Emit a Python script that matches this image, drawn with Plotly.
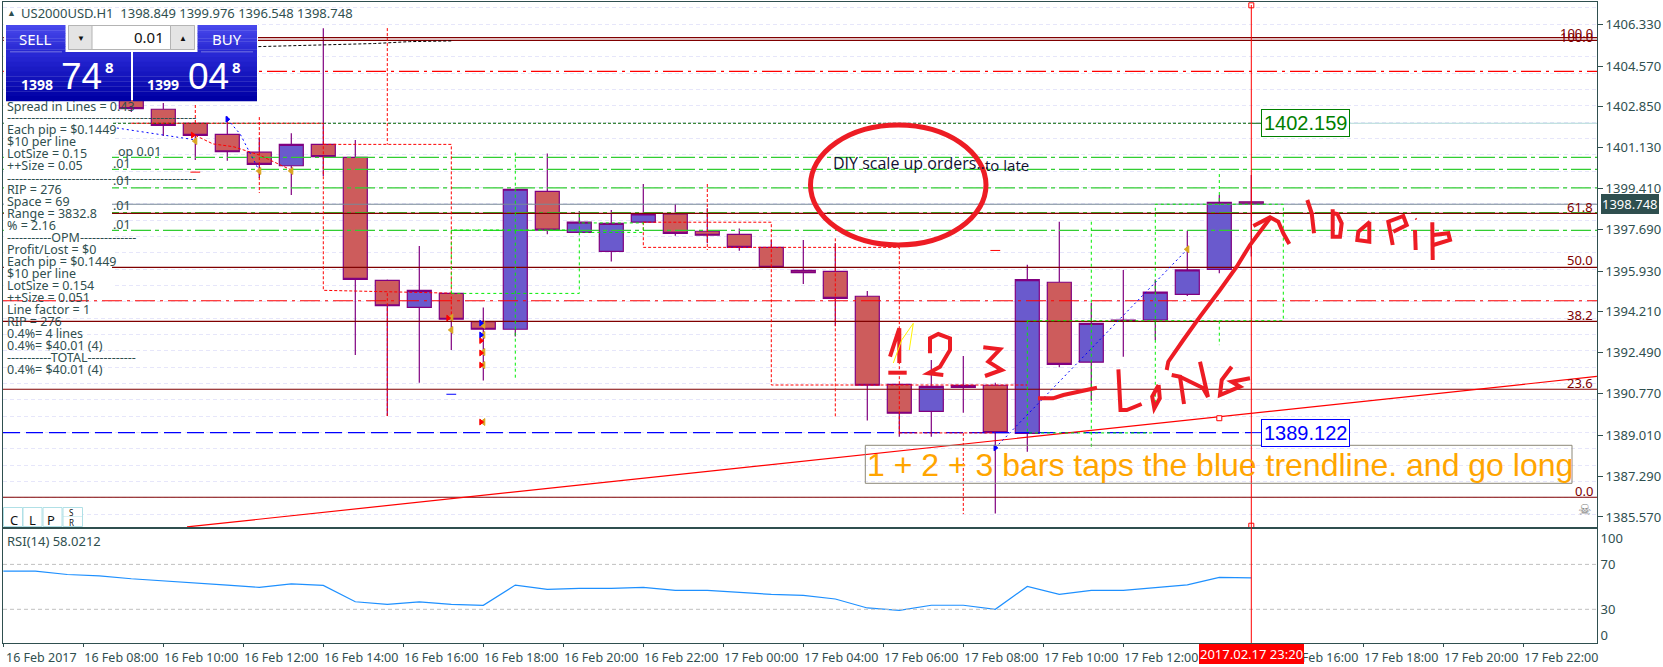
import plotly.graph_objects as go

W, H = 1663, 667

# ---------- chart data ----------
bars = list(range(0, 36))
opens = [1403.35,1402.75,1402.16,1401.69,1400.94,1400.37,1401.27,1400.72,1395.54,1394.40,1394.99,1393.80,1393.48,1399.29,1397.56,1396.76,1397.99,1398.34,1397.61,1397.48,1396.93,1395.96,1395.92,1394.87,1391.16,1390.02,1391.03,1391.12,1389.09,1395.46,1392.09,1393.85,1393.87,1394.95,1396.00,1398.849]
highs = [1403.56,1403.01,1402.17,1402.44,1401.54,1401.74,1406.16,1401.45,1395.58,1396.99,1395.00,1394.40,1399.38,1400.89,1398.46,1398.50,1399.60,1398.76,1398.58,1397.73,1397.24,1397.24,1397.10,1395.09,1391.17,1392.18,1392.35,1391.23,1396.20,1398.01,1394.59,1395.98,1395.58,1397.63,1399.14,1399.976]
lows = [1402.63,1401.62,1400.61,1400.58,1399.85,1399.14,1399.94,1392.39,1389.82,1391.22,1392.60,1391.32,1393.17,1397.48,1397.56,1396.33,1397.98,1397.42,1397.10,1396.79,1396.06,1395.39,1393.62,1389.63,1388.95,1388.95,1389.96,1385.71,1388.32,1391.88,1390.47,1392.32,1393.03,1394.88,1395.84,1396.548]
closes = [1402.78,1402.07,1401.65,1400.96,1400.43,1401.27,1400.75,1395.58,1394.47,1395.12,1393.90,1393.48,1399.38,1397.66,1397.99,1397.94,1398.34,1397.52,1397.44,1396.93,1396.09,1395.86,1394.78,1391.12,1389.94,1391.07,1391.12,1389.12,1395.57,1392.00,1393.73,1393.87,1395.04,1395.98,1398.83,1398.748]

rsi_bars = list(range(-4, 36))
rsi_values = [64.0,64.0,61.0,59.8,57.2,55.4,53.9,51.6,49.5,52.7,51.3,36.7,34.4,36.7,34.4,33.5,51.6,47.8,48.7,48.7,49.6,46.9,46.9,45.1,43.3,42.4,39.2,31.2,29.1,33.6,33.6,30.0,50.4,43.3,46.8,46.8,49.2,51.8,58.4,58.02]

price_ticks = [1406.33,1404.57,1402.85,1401.13,1399.41,1397.69,1395.93,1394.21,1392.49,1390.77,1389.01,1387.29,1385.57]
rsi_levels = [70, 30]
time_labels = ["16 Feb 2017","16 Feb 08:00","16 Feb 10:00","16 Feb 12:00","16 Feb 14:00","16 Feb 16:00","16 Feb 18:00","16 Feb 20:00","16 Feb 22:00","17 Feb 00:00","17 Feb 04:00","17 Feb 06:00","17 Feb 08:00","17 Feb 10:00","17 Feb 12:00","17 Feb 14:00","17 Feb 16:00","17 Feb 18:00","17 Feb 20:00","17 Feb 22:00"]

fib_levels = [1405.765,1405.656,1398.365,1396.09,1393.81,1390.95,1386.40]
fib_labels = [("100.0",1405.95),("100.0",1405.80),("61.8",1398.64),("50.0",1396.38),("38.2",1394.09),("23.6",1391.23),("0.0",1386.68)]
green_levels = [1400.725,1400.22,1399.44,1398.39,1397.65]
red_dashdot_levels = [1404.35,1394.68]
bid_level = 1398.748
tp_level = 1402.159
sl_level = 1389.122
trend_x = [1.74, 45.8]
trend_y = [1385.15, 1391.49]

red_orders = [
 [(2,1402.93),(2,1402.16)], [(0,1402.16),(6,1402.16),(6,1395.12),(10,1395.0)],
 [(4,1402.42),(4,1399.22)], [(6,1401.27),(10,1401.27),(10,1393.9)],
 [(8,1406.17),(8,1401.27)], [(8,1395.0),(8,1389.82)],
 [(2,1401.65),(2.55,1401.29),(3.2,1401.17),(4,1400.82),(5,1400.19)],
 [(16,1397.99),(20,1397.99),(20,1391.13),(28,1391.13)],
 [(16,1397.99),(16,1396.93),(24,1396.93),(24,1388.98)],
 [(24,1389.11),(27,1389.11)], [(26,1389.11),(26,1385.69)],
 [(18,1399.6),(18,1396.82)], [(22,1397.31),(22,1389.75)],
]
green_orders = [
 [(10,1394.99),(10,1397.66),(14,1397.66)], [(10,1394.99),(14,1394.99),(14,1398.46)],
 [(14,1397.56),(16,1397.56),(16,1397.96),(14,1397.96)], [(12,1400.92),(12,1391.38)],
 [(28,1393.84),(36,1393.84),(36,1398.748),(32,1398.748),(32,1390.16)],
 [(28,1393.84),(28,1389.11),(32,1389.11)], [(30,1398.01),(30,1388.52)],
 [(34,1400.02),(34,1398.71)], [(34,1393.84),(34,1392.81)],
]
blue_orders = [
 [(-0.45,1401.96),(2,1401.46)], [(3,1402.33),(3.4,1401.71),(4,1400.15)],
 [(27,1388.48),(33,1396.85)],
]
black_order = [(3.97,1405.39),(5.7,1405.44),(7.6,1405.52),(8.7,1405.60),(10.05,1405.63)]

tri_x = [2,4,5,11,11,11,11,11,10,10,33]
tri_y = [1401.41,1400.15,1400.15,1393.66,1393.24,1392.52,1391.97,1389.57,1393.97,1393.45,1396.85]
red_mark_x = [10.93,10.93,10.93,10.93,1.92,9.9]
red_mark_y = [1393.0,1392.48,1391.97,1389.57,1401.66,1393.95]
blue_mark_x = [10.93,10.93,3,27]
blue_mark_y = [1393.74,1393.24,1402.33,1388.48]
red_dash_x = [2,27]
red_dash_y = [1400.10,1396.8]
blue_dash_x = [10]
blue_dash_y = [1390.74]

info_lines = [
 ("Spread in Lines = 0.43",106),("-----------------------------------------------",118),
 ("Each pip = $0.1449",129.5),("$10 per line",141.7),("LotSize = 0.15",153.7),("++Size = 0.05",165.7),
 ("-----------------------------------------------",178),("RIP = 276",189.5),("Space = 69",201.7),
 ("Range = 3832.8",213.7),("% = 2.16",225.7),("-----------OPM--------------",237.7),
 ("Profit/Lost = $0",249.7),("Each pip = $0.1449",261.7),("$10 per line",273.7),("LotSize = 0.154",285.7),
 ("++Size = 0.051",297.7),("Line factor = 1",309.7),("RIP = 276",321.7),("0.4%= 4 lines",333.7),
 ("0.4%= $40.01 (4)",345.7),("-----------TOTAL------------",357.7),("0.4%= $40.01 (4)",369.7),
]
lot_lines = [("op 0.01",118,151),(".01",113,163),(".01",113,181),(".01",113,206),(".01",113,224)]

# hand-drawn marks on the screenshot, in window pixels
strokes = [
 [(1166.7,370),(1168.3,361.7),(1183.3,340),(1200,316.7),(1220,290),(1236.7,266.7),(1250,245),(1270,218.3)],
 [(1253.3,226),(1270,217.3),(1278.3,221.7),(1283.3,233.3),(1289.3,244)],
 [(1038,398.3),(1053,398.3),(1063.4,395),(1097,387.7)],
 [(1118.4,369.3),(1120.5,410),(1126.8,410),(1141.6,404)],
 [(1158.6,385),(1152.2,396.7),(1154.3,408.3),(1159.8,398.3),(1158.6,385)],
 [(1171.7,375),(1180,376.7),(1184,404)],
 [(1180,376.7),(1203,388),(1208,397),(1200,361.7)],
 [(1231.7,366.7),(1221.7,380),(1220,395),(1240,386.7),(1231.7,381.7),(1250,378.3)],
 [(890,356.7),(899.3,328.3),(899.3,353),(899.3,363)],
 [(888.3,372.7),(906.7,372.7)],
 [(930,353.3),(930,338.3),(938.3,334),(950,338.3),(950,350),(940,366.7),(928.3,373.3),(943.3,375)],
 [(983.3,347.3),(1000,349.3),(988.3,361.7),(1001.7,370),(985,376)],
 [(1307.3,200),(1311.7,213.3),(1314,233.3)],
 [(1332.7,209.3),(1332.7,236.7),(1340,236.7),(1341.7,223.3),(1337.3,214),(1333.3,213.3)],
 [(1370,221.7),(1358.3,231.7),(1357.3,240),(1369.3,241.7),(1369.3,221.7)],
 [(1392.7,245),(1388.3,221.7),(1403.3,216),(1406.7,225),(1393.3,231.7)],
 [(1415,230),(1415.7,250)],
 [(1432.3,222.3),(1432.7,260)],
 [(1433.3,245),(1450,240),(1448.3,233.3),(1433.3,235)],
]
yellow_strokes = [[(893.3,363),(901.7,340),(913.3,323.3),(909.3,350)]]

# ---------- layout constants ----------
SLATE = "#2f4f4f"
DARKRED = "#800000"
TXT = "Noto Sans"
L, R, T, B = 3, 1597, 2, 527
RT, RB = 529, 643
X0, X1 = (L-131.3)/32, (R-131.3)/32
Y_TOP, Y_BOT = 1407.27, 1385.146
def px(x): return x/W
def py(y): return 1-y/H
def seg(paths):
    xs, ys = [], []
    for p in paths:
        xs += [a for a,_ in p]+[None]
        ys += [b for _,b in p]+[None]
    return xs, ys

fig = go.Figure()
def level(v, color, dash="solid", width=1, x0=X0, x1=X1):
    fig.add_trace(go.Scatter(x=[x0,x1], y=[v,v], mode="lines", line=dict(color=color,dash=dash,width=width),
                             hoverinfo="skip", showlegend=False))

# below the candles
for v in green_levels:
    level(v, "#32cd32", "20px,4px,4px,4px", 1.2)
level(bid_level, "#778899", "solid", 1.2)
level(tp_level, "#b0d8d8", "solid", 1, 37.99, X1)

fig.add_trace(go.Candlestick(x=bars, open=opens, high=highs, low=lows, close=closes,
    increasing=dict(line=dict(color="#800080",width=1.2), fillcolor="#6a5acd"),
    decreasing=dict(line=dict(color="#800080",width=1.2), fillcolor="#cd5c5c"),
    whiskerwidth=0, showlegend=False, hoverinfo="skip"))

# above the candles
for v in fib_levels:
    level(v, DARKRED, "solid", 1.2)
for v in red_dashdot_levels:
    level(v, "#ff0000", "20px,5px,3px,5px", 1.2)
level(tp_level, "#006400", "3px,2px", 1, X0, 35)
level(tp_level, "#006400", "solid", 1, 35, 35.35)
level(sl_level, "#0000ff", "17px,6px", 1.2, X0, 35)
level(sl_level, "#0000ff", "solid", 1, 35, 35.35)
fig.add_trace(go.Scatter(x=trend_x, y=trend_y, mode="lines", line=dict(color="#ff0000",width=1.2),
                         hoverinfo="skip", showlegend=False))
for paths, col, d in [(red_orders,"#ff0000","3px,2px"),(green_orders,"#00ee00","3px,3px"),
                      (blue_orders,"#0000ff","2px,3px"),([black_order],"#000000","3px,2px")]:
    xs, ys = seg(paths)
    fig.add_trace(go.Scatter(x=xs, y=ys, mode="lines", line=dict(color=col,dash=d,width=1),
                             connectgaps=False, hoverinfo="skip", showlegend=False))
def marks(x, y, sym, col, size):
    fig.add_trace(go.Scatter(x=x, y=y, mode="markers", hoverinfo="skip", showlegend=False,
        marker=dict(symbol=sym, size=size, color=col, line=dict(color=col, width=1))))
marks(tri_x, tri_y, "triangle-left", "#daa520", 6)
marks(red_mark_x, red_mark_y, "triangle-right", "#ff0000", 5)
marks(blue_mark_x, blue_mark_y, "triangle-right", "#0000ff", 5)
marks(red_dash_x, red_dash_y, "line-ew", "#ff0000", 7)
marks(blue_dash_x, blue_dash_y, "line-ew", "#0000ff", 7)
fig.add_trace(go.Scatter(x=[35,35,34], y=[1407.13,1385.2,1389.73], mode="markers", hoverinfo="skip", showlegend=False,
    marker=dict(symbol="square", size=5, color="#ffffff", line=dict(color="#ff0000",width=1))))

# RSI
fig.add_trace(go.Scatter(x=rsi_bars, y=rsi_values, mode="lines", xaxis="x2", yaxis="y2",
    line=dict(color="#1e90ff",width=1.2), hoverinfo="skip", showlegend=False))
for v in rsi_levels:
    fig.add_trace(go.Scatter(x=[X0,X1], y=[v,v], mode="lines", xaxis="x2", yaxis="y2",
        line=dict(color="#c0c0c0",dash="4px,3px",width=1), hoverinfo="skip", showlegend=False))

shapes, ann = [], []
def rect(x0,y0,x1,y1,fill=None,line=None,lw=1):
    shapes.append(dict(type="rect",xref="paper",yref="paper",x0=px(x0),x1=px(x1),y0=py(y1),y1=py(y0),
        fillcolor=fill or "rgba(0,0,0,0)",line=dict(color=line or "rgba(0,0,0,0)",width=lw if line else 0),layer="above"))
def text(x,y,s,size=13,color=SLATE,anchor="left",font=TXT,bg=None,bold=False,border=None,pad=0):
    ann.append(dict(xref="paper",yref="paper",x=px(x),y=py(y),text=("<b>%s</b>"%s) if bold else s,showarrow=False,
        xanchor=anchor,yanchor="middle",font=dict(family=font,size=size,color=color),
        bgcolor=bg,bordercolor=border,borderpad=pad,borderwidth=1 if border else 0))

# crosshair
shapes.append(dict(type="line",xref="x",yref="paper",x0=35,x1=35,y0=py(RB),y1=py(5),line=dict(color="#ff0000",width=1),layer="above"))

# hand strokes
def poly(points,color,width):
    d = "M "+" L ".join("%.5f,%.5f"%(px(a),py(b)) for a,b in points)
    shapes.append(dict(type="path",xref="paper",yref="paper",path=d,line=dict(color=color,width=width),layer="above"))
for s in strokes:
    poly(s,"#ed1c24",4)
for s in yellow_strokes:
    poly(s,"#fff200",1)
shapes.append(dict(type="circle",xref="paper",yref="paper",x0=px(810.5),x1=px(986),y0=py(245),y1=py(125),
    line=dict(color="#ed1c24",width=5),layer="above"))
poly([(1415.5,218.5),(1416.5,219.5)],"#ed1c24",2)

# info panel backing
rect(3.8,100,112,292,fill="#ffffff")
rect(3.8,23,258,100,fill="#ffffff")
# sell / buy panel
def grad(x0,y0,x1,y1,top,bot,n=10):
    for k in range(n):
        f = k/(n-1)
        c = tuple(round(top[i]+(bot[i]-top[i])*f) for i in range(3))
        rect(x0,y0+(y1-y0)*k/n,x1,y0+(y1-y0)*(k+1)/n+0.3,fill="rgb(%d,%d,%d)"%c)
grad(6,25,65.5,52,(72,72,236),(40,40,210))
grad(197.5,25,257,52,(72,72,236),(40,40,210))
grad(6,52,131,101,(40,40,212),(0,0,165))
grad(133,52,257,101,(40,40,212),(0,0,165))
rect(10,51.5,62,52.3,fill="#8f8fe8")
rect(201,51.5,253,52.3,fill="#8f8fe8")
rect(68.5,25.5,194.5,49.5,fill="#ffffff",line="#b4b4b4",lw=1)
rect(68.5,25.5,92,49.5,fill="#e4e4e4",line="#b4b4b4",lw=1)
rect(170.5,25.5,194.5,49.5,fill="#e4e4e4",line="#b4b4b4",lw=1)
# C L P S/R buttons
for x0,x1 in [(3.5,22.5),(23,42),(43,62),(63,82.5)]:
    rect(x0,507.5,x1,526.5,fill="#ffffff",line="#b0e0e6",lw=1)
rect(63,516.5,82.5,517,fill="#b0e0e6")
# text box & value boxes
rect(865.3,445.3,1572,483.3,line="#8b8878",lw=1)

text(7,12.7,"▲",size=9,color=SLATE)
text(21,12.7,"US2000USD.H1&nbsp;&nbsp;1398.849 1399.976 1396.548 1398.748",size=13)
for s,y in info_lines:
    text(7,y,s,size=12.5)
for s,x,y in lot_lines:
    text(x,y,s,size=12.5)
text(35,38.5,"SELL",size=15,color="#ffffff",anchor="center")
text(227,38.5,"BUY",size=15,color="#ffffff",anchor="center")
text(164,37.5,"0.01",size=15,color="#111111",anchor="right")
text(80.5,37.5,"▼",size=8,color="#111111",anchor="center")
text(182.5,37.5,"▲",size=8,color="#111111",anchor="center")
text(21,84.5,"1398",size=14,color="#ffffff",bold=True)
text(61,76.5,"74",size=37,color="#ffffff",font="Liberation Sans")
text(104.5,66.5,"8",size=15,color="#ffffff",bold=True)
text(147,84.5,"1399",size=14,color="#ffffff",bold=True)
text(187.5,76.5,"04",size=37,color="#ffffff",font="Liberation Sans")
text(231.5,66.5,"8",size=15,color="#ffffff",bold=True)
text(10,520,"C",size=13,color="#111111")
text(29,520,"L",size=13,color="#111111")
text(47,520,"P",size=13,color="#111111")
text(69,512,"S",size=8,color="#111111")
text(69,522,"R",size=8,color="#111111")
text(1584,510,"☠",size=15,color="#808080",anchor="center",font="DejaVu Sans")
text(832.5,163,"DIY scale up orders...",size=16,color="#111133",font="Open Sans")
text(985,165.5,"to late",size=15,color="#111133",font="Open Sans")
text(867,464.5,"1 + 2 + 3 bars taps the blue trendline. and go long",size=32,color="#ffa500",font="Liberation Sans")
text(1305,123.5,"1402.159",size=20,color="#008000",anchor="center",font="Liberation Sans",bg="#ffffff",border="#008000",pad=2)
text(1305,432.5,"1389.122",size=20,color="#0000ff",anchor="center",font="Liberation Sans",bg="#ffffff",border="#0000ff",pad=2)
text(1251,653.5,"2017.02.17 23:20",size=13,color="#ffffff",anchor="center",bg="#ff0000",pad=1)
text(7,540.7,"RSI(14) 58.0212",size=13)
text(1630,203.5,"1398.748",size=13,color="#ffffff",anchor="center",bg=SLATE,pad=1)
for s,v in fib_labels:
    ann.append(dict(xref="paper",yref="y",x=px(1595),y=v,text=s,showarrow=False,xanchor="right",yanchor="middle",
        font=dict(family=TXT,size=13,color=DARKRED)))

fig.update_layout(
    width=W, height=H, margin=dict(l=0,r=0,t=0,b=0), autosize=False,
    paper_bgcolor="#ffffff", plot_bgcolor="#ffffff", showlegend=False,
    boxgap=0.25, boxgroupgap=0, boxmode="overlay", shapes=shapes, annotations=ann,
    xaxis=dict(domain=[px(L),px(R)], range=[X0,X1], anchor="y", showgrid=False, zeroline=False,
        showticklabels=False, ticks="", rangeslider=dict(visible=False), showline=True, linecolor=SLATE, linewidth=1, mirror=True),
    yaxis=dict(domain=[py(B),py(T)], range=[Y_BOT,Y_TOP], side="right", anchor="x", showgrid=False, zeroline=False,
        tickmode="array", tickvals=price_ticks, ticktext=["%.3f"%v for v in price_ticks],
        ticks="outside", ticklen=5, tickcolor=SLATE, tickfont=dict(family=TXT,size=13,color=SLATE),
        showline=True, linecolor=SLATE, linewidth=1, mirror=True,
        minor=dict(showgrid=True, gridcolor="#e6e6fa", griddash="4px,3px", gridwidth=1, tick0=1406.33, dtick=0.688, ticks="")),
    xaxis2=dict(domain=[px(L),px(R)], range=[X0,X1], anchor="y2", showgrid=False, zeroline=False,
        tickmode="array", tickvals=[-4+2.5*k for k in range(len(time_labels))], ticktext=time_labels,
        ticks="outside", ticklen=3, tickcolor=SLATE, tickangle=0, ticklabelshift=38,
        tickfont=dict(family=TXT,size=12.5,color=SLATE),
        showline=True, linecolor=SLATE, linewidth=1, mirror=True),
    yaxis2=dict(domain=[py(RB),py(RT)], range=[0,101.5], side="right", anchor="x2", showgrid=False, zeroline=False,
        tickmode="array", tickvals=[93,70,30,7], ticktext=["100","70","30","0"], ticks="", 
        tickfont=dict(family=TXT,size=13,color=SLATE),
        showline=True, linecolor=SLATE, linewidth=1, mirror=True),
)

fig.write_html("out.html", config={"displayModeBar": False},
               post_script="document.body.style.margin='0';document.body.style.overflow='hidden';")
